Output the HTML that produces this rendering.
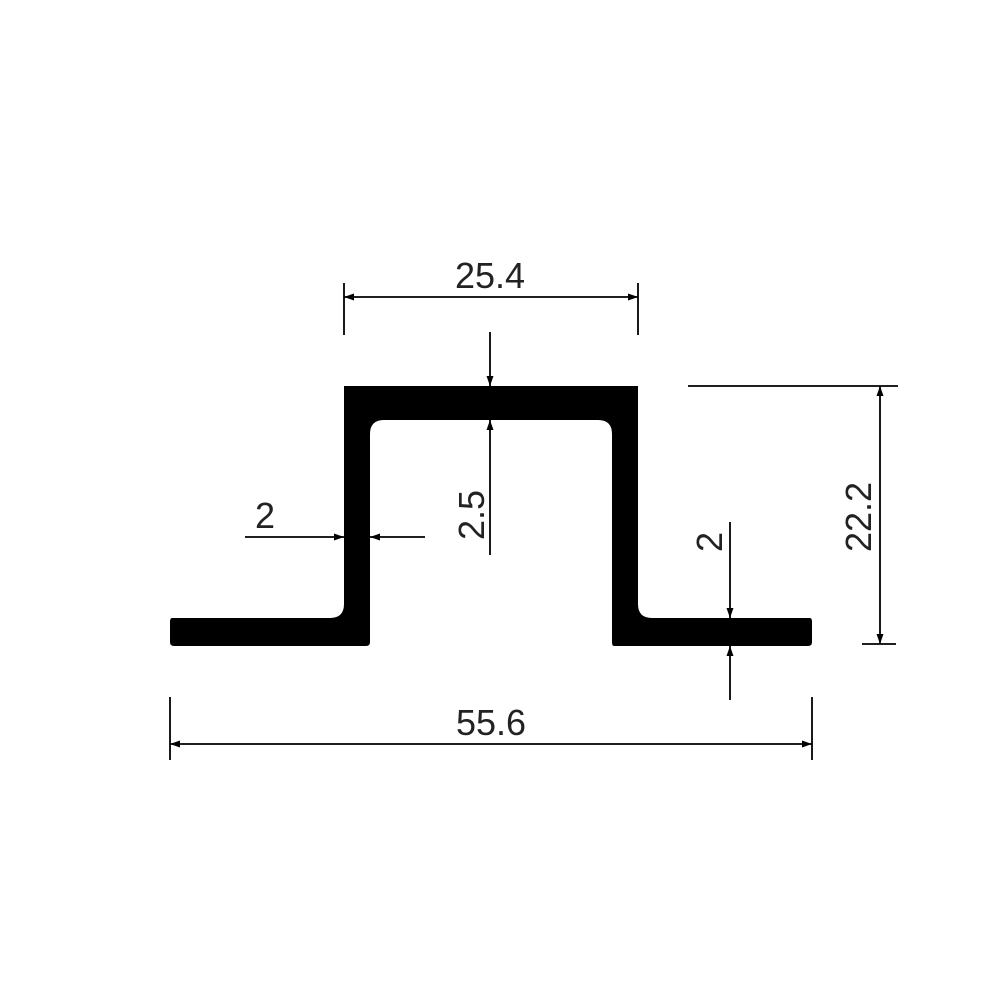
<!DOCTYPE html>
<html><head><meta charset="utf-8"><style>html,body{margin:0;padding:0;background:#fff}</style></head>
<body>
<svg width="1000" height="1000" viewBox="0 0 1000 1000" xmlns="http://www.w3.org/2000/svg">
<defs>
<marker id="a" viewBox="0 0 10 10" refX="10" refY="5" markerWidth="20" markerHeight="10" markerUnits="userSpaceOnUse" orient="auto-start-reverse"><path d="M0,1.5 L10,5 L0,8.5 Z" fill="#000"/></marker>
</defs>
<path d="M172,618 L330,618 Q344,618 344,604 L344,386 L638,386 L638,604 Q638,618 652,618 L810,618 Q812,618 812,622 L812,642 Q812,646 808,646 L614,646 Q612,646 612,642 L612,434 Q612,420 598,420 L384,420 Q370,420 370,434 L370,642 Q370,646 366,646 L174,646 Q170,646 170,642 L170,622 Q170,618 172,618 Z" fill="#000"/>
<g stroke="#000" stroke-width="1.8" fill="none">
<line x1="344" y1="283" x2="344" y2="335"/><line x1="638" y1="283" x2="638" y2="335"/>
<line x1="344" y1="297" x2="638" y2="297" marker-start="url(#a)" marker-end="url(#a)"/>
<line x1="490" y1="332" x2="490" y2="386" marker-end="url(#a)"/>
<line x1="490" y1="555" x2="490" y2="420" marker-end="url(#a)"/>
<line x1="245" y1="537" x2="344" y2="537" marker-end="url(#a)"/>
<line x1="425" y1="537" x2="370" y2="537" marker-end="url(#a)"/>
<line x1="688" y1="386" x2="898" y2="386"/>
<line x1="862" y1="644" x2="896" y2="644"/>
<line x1="880" y1="386" x2="880" y2="644" marker-start="url(#a)" marker-end="url(#a)"/>
<line x1="730" y1="522" x2="730" y2="618" marker-end="url(#a)"/>
<line x1="730" y1="700" x2="730" y2="646" marker-end="url(#a)"/>
<line x1="170" y1="697" x2="170" y2="760"/><line x1="812" y1="697" x2="812" y2="760"/>
<line x1="170" y1="744" x2="812" y2="744" marker-start="url(#a)" marker-end="url(#a)"/>
</g>
<g font-family="Liberation Sans, sans-serif" font-size="36" fill="#222" text-anchor="middle">
<text x="490" y="288">25.4</text>
<text x="491" y="735">55.6</text>
<text x="265" y="528">2</text>
<text transform="translate(484,515) rotate(-90)">2.5</text>
<text transform="translate(722,542) rotate(-90)">2</text>
<text transform="translate(871,517) rotate(-90)">22.2</text>
</g>
</svg>
</body></html>
